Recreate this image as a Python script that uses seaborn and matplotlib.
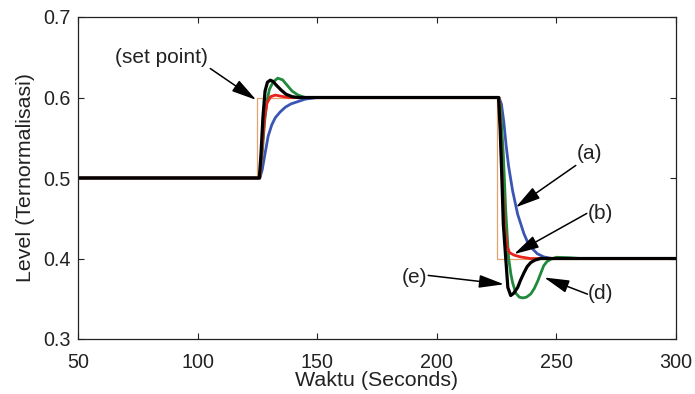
import matplotlib
matplotlib.use("Agg")
import matplotlib.pyplot as plt
import seaborn as sns
import pandas as pd

# ---------------- data ----------------
setpoint_t = [50, 125, 125, 225, 225, 300]
setpoint_v = [0.5, 0.5, 0.6, 0.6, 0.4, 0.4]

a_t = [50, 126, 127, 128, 129.5, 131, 132.5, 134.5, 136.7, 139, 142, 145, 150,
       226, 227, 228, 229, 230, 231.7, 233.8, 236.4, 238, 240, 242, 244.7, 248, 300]
a_v = [0.5, 0.5, 0.51, 0.527, 0.552, 0.566, 0.575, 0.582, 0.588, 0.592, 0.595, 0.598, 0.6,
       0.6, 0.592, 0.57, 0.54, 0.515, 0.484, 0.455, 0.431, 0.42, 0.412, 0.406, 0.402, 0.4, 0.4]

b_t = [50, 126, 127, 128, 129, 130.5, 132.5, 135, 138,
       226, 226.6, 227.3, 228.3, 229.3, 230.5, 232.5, 235, 239, 300]
b_v = [0.5, 0.5, 0.54, 0.575, 0.593, 0.601, 0.603, 0.6015, 0.6,
       0.6, 0.565, 0.5, 0.44, 0.415, 0.407, 0.404, 0.402, 0.4, 0.4]

d_t = [50, 126, 127, 128, 129, 130, 131.5, 133.5, 135.5, 137.5, 139.5, 142, 145, 150,
       226, 226.7, 227.8, 228.8, 230, 231, 231.7, 233, 234.5, 236, 237.5, 239.3, 240.8,
       242.2, 243.5, 244.7, 246, 247.6, 250, 255, 260, 300]
d_v = [0.5, 0.5, 0.53, 0.57, 0.595, 0.61, 0.619, 0.624, 0.622, 0.615, 0.608, 0.603, 0.6, 0.6,
       0.6, 0.585, 0.53, 0.46, 0.401, 0.38, 0.37, 0.357, 0.352, 0.351, 0.352, 0.356, 0.363,
       0.372, 0.382, 0.391, 0.396, 0.399, 0.4015, 0.401, 0.4, 0.4]

e_t = [50, 125.8, 126.5, 127.3, 128.2, 129.2, 130.4, 131.5, 133, 135, 137, 139.5, 142,
       225.8, 226.5, 227.2, 227.8, 228.8, 229.7, 230.9, 232.2, 233.8, 235, 236.4, 237.8,
       239.3, 241, 243.4, 300]
e_v = [0.5, 0.5, 0.53, 0.575, 0.608, 0.619, 0.6215, 0.62, 0.615, 0.609, 0.604, 0.601, 0.6,
       0.6, 0.56, 0.5, 0.443, 0.401, 0.364, 0.354, 0.357, 0.364, 0.373, 0.382, 0.39,
       0.395, 0.398, 0.4, 0.4]

labels = ["(set point)", "(a)", "(b)", "(d)", "(e)"]
x_ticks = [50, 100, 150, 200, 250, 300]
y_ticks = [0.3, 0.4, 0.5, 0.6, 0.7]

# ---------------- style ----------------
sns.set_style("ticks")
plt.rcParams["font.family"] = ["Liberation Sans", "DejaVu Sans"]
plt.rcParams["xtick.direction"] = "in"
plt.rcParams["ytick.direction"] = "in"

fig = plt.figure(figsize=(6.95, 3.94), dpi=100)
ax = fig.add_axes([78 / 695, 1 - 339 / 394, (676 - 78) / 695, (339 - 17) / 394])

series = [
    (setpoint_t, setpoint_v, "#e2a36e", 0.9),
    (a_t, a_v, "#3a55b4", 2.0),
    (d_t, d_v, "#1f8a3b", 2.0),
    (b_t, b_v, "#e8231c", 2.0),
    (e_t, e_v, "#000000", 2.3),
]
for t, v, c, lw in series:
    df = pd.DataFrame({"t": t, "v": v})
    sns.lineplot(data=df, x="t", y="v", ax=ax, color=c, linewidth=lw,
                 sort=False, estimator=None)

ax.set_xlim(50, 300)
ax.set_ylim(0.3, 0.7)
ax.set_xticks(x_ticks)
ax.set_xticklabels([str(x) for x in x_ticks])
ax.set_yticks(y_ticks)
ax.set_yticklabels([f"{y:.1f}" for y in y_ticks])
ax.tick_params(axis="both", which="both", top=True, right=True, length=4,
               width=0.8, labelsize=14.2, colors="#222222")
ax.tick_params(axis="x", pad=10)
ax.tick_params(axis="y", pad=5)
for s in ax.spines.values():
    s.set_linewidth(0.9)
    s.set_color("#222222")

ax.set_xlabel("Waktu (Seconds)", fontsize=15.4, labelpad=-1, color="#222222")
ax.set_ylabel("Level (Ternormalisasi)", fontsize=15.4, labelpad=6, color="#222222")

# ---------------- annotations ----------------
arrow = dict(arrowstyle="-|>,head_length=0.85,head_width=0.22", color="black",
             lw=1.1, shrinkA=0, shrinkB=0, mutation_scale=18)
txt = dict(fontsize=15, ha="center", va="center", color="#222222")

ax.text(85.0, 0.650, labels[0], **txt)
ax.annotate("", xy=(124.5, 0.597), xytext=(105.3, 0.636), arrowprops=arrow)

ax.text(263.7, 0.530, labels[1], **txt)
ax.annotate("", xy=(233.0, 0.4636), xytext=(258.1, 0.5156), arrowprops=arrow)

ax.text(268.6, 0.4564, labels[2], **txt)
ax.annotate("", xy=(232.3, 0.4055), xytext=(262.7, 0.456), arrowprops=arrow)

ax.text(268.6, 0.356, labels[3], **txt)
ax.annotate("", xy=(244.9, 0.3764), xytext=(263.0, 0.3557), arrowprops=arrow)

ax.text(190.8, 0.377, labels[4], **txt)
ax.annotate("", xy=(228.1, 0.368), xytext=(196.4, 0.379), arrowprops=arrow)

fig.savefig("out.png", dpi=100, facecolor="white")
